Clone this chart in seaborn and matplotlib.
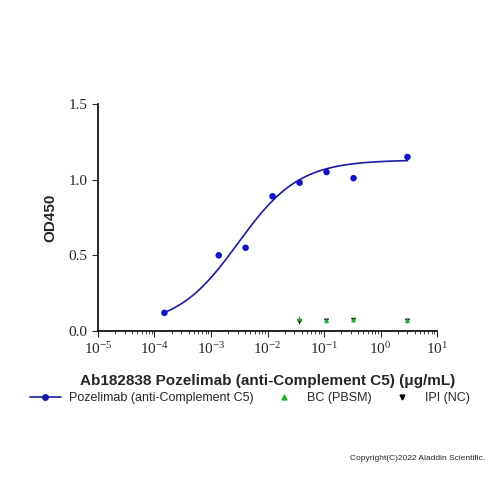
import numpy as np
import pandas as pd
import matplotlib
matplotlib.use("Agg")
import matplotlib.pyplot as plt
import seaborn as sns
from matplotlib.lines import Line2D

conc = [0.00015, 0.00137, 0.0041, 0.0123, 0.037, 0.111, 0.333, 3.0]
od = [0.12, 0.50, 0.55, 0.89, 0.98, 1.05, 1.01, 1.15]
bc_conc = [0.037, 0.111, 0.333, 3.0]
bc_od = [0.08, 0.07, 0.075, 0.07]
ipi_conc = [0.037, 0.111, 0.333, 3.0]
ipi_od = [0.06, 0.065, 0.07, 0.065]

# 4PL curve parameters (bottom, top, ec50, hill)
bottom, top, ec50, hill = 0.03, 1.13, 0.003, 0.8

sns.set_style("ticks")
plt.rcParams['font.family'] = ['Liberation Serif', 'DejaVu Serif']
plt.rcParams['mathtext.fontset'] = 'stix'
fig = plt.figure(figsize=(5, 5), dpi=100)
ax = fig.add_axes([0.196, 0.338, 0.678, 0.454])

xs = np.logspace(np.log10(conc[0]), np.log10(conc[-1]), 200)
ys = bottom + (top - bottom) / (1 + (ec50 / xs) ** hill)
sns.lineplot(x=xs, y=ys, ax=ax, color='#1a1aa0', lw=1.2)
sns.scatterplot(x=conc, y=od, ax=ax, color='#1010c8', s=22, edgecolor='none', zorder=3)
sns.scatterplot(x=ipi_conc, y=ipi_od, ax=ax, color='black', marker='v', s=14, edgecolor='none', zorder=3)
sns.scatterplot(x=bc_conc, y=bc_od, ax=ax, color='#22b02e', marker='^', s=14, edgecolor='none', zorder=4)

ax.set_xscale('log')
ax.set_xlim(1e-5, 1e1)
ax.set_ylim(0, 1.5)
ax.set_yticks([0, 0.5, 1.0, 1.5])
ax.set_yticklabels(['0.0', '0.5', '1.0', '1.5'])
ax.set_xticks([10.0**k for k in range(-5, 2)])
ax.set_xticklabels([f'$\\mathregular{{10^{{{k}}}}}$' for k in range(-5, 2)])
ax.tick_params(labelsize=11, direction='out', length=4)
ax.tick_params(which='minor', length=2)
sns.despine(ax=ax)
for s in ['left', 'bottom']:
    ax.spines[s].set_linewidth(1.2)
    ax.spines[s].set_color('black')

ax.set_ylabel('OD450', fontsize=11, fontweight='bold', family='Liberation Sans', labelpad=8)
ax.set_xlabel('Ab182838 Pozelimab (anti-Complement C5) (μg/mL)', fontsize=11,
              fontweight='bold', family='Liberation Sans', labelpad=12)

handles = [
    Line2D([0], [0], color='#1a1aa0', marker='o', markersize=4, lw=1.2),
    Line2D([0], [0], color='#22b02e', marker='^', markersize=3.5, lw=0),
    Line2D([0], [0], color='black', marker='v', markersize=3.5, lw=0),
]
fig.legend(handles, ['Pozelimab (anti-Complement C5)', 'BC (PBSM)', 'IPI (NC)'],
           loc='center', bbox_to_anchor=(0.5, 0.204), ncol=3, frameon=False,
           prop={'family': 'Liberation Sans', 'size': 9}, columnspacing=1.2,
           handlelength=2.5, handletextpad=0.6)
fig.text(0.97, 0.084, 'Copyright(C)2022 Aladdin Scientific.', ha='right', va='center',
         fontsize=6, family='Liberation Sans')
fig.savefig('out.png', dpi=100, facecolor='white')
